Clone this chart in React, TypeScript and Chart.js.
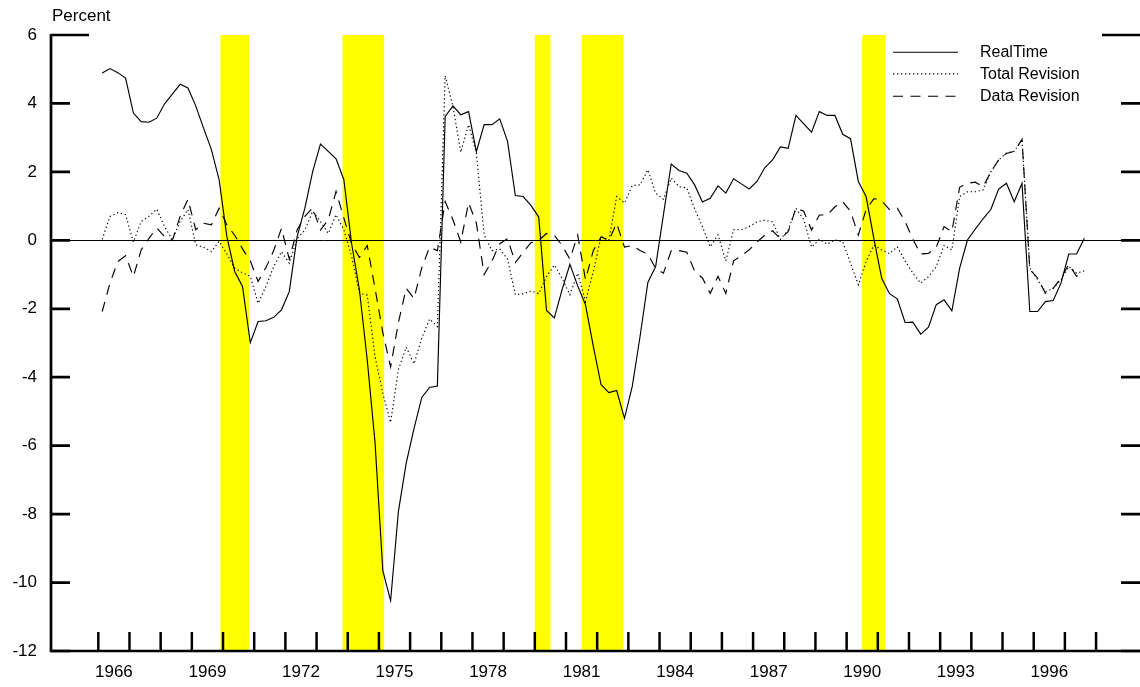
import React, { useEffect, useRef } from "react";
import { Chart, registerables } from "chart.js";

Chart.register(...registerables);

// Quarterly series, 1966Q1 .. 1997Q3 (percent)
const START_YEAR = 1966;

const realTime = [
  4.89, 5.02, 4.9, 4.74, 3.72, 3.47, 3.45, 3.57, 3.99, 4.27,
  4.56, 4.45, 3.93, 3.28, 2.66, 1.77, 0.1, -0.91, -1.35, -2.99,
  -2.37, -2.35, -2.25, -2.03, -1.5, 0.1, 0.94, 2.01, 2.81, 2.6,
  2.38, 1.77, -0.1, -1.45, -3.49, -5.9, -9.65, -10.53, -7.92, -6.51,
  -5.5, -4.59, -4.3, -4.26, 3.62, 3.93, 3.67, 3.76, 2.59, 3.38,
  3.38, 3.55, 2.89, 1.31, 1.28, 1.02, 0.68, -2.05, -2.27, -1.44,
  -0.7, -1.33, -1.88, -3.09, -4.22, -4.45, -4.39, -5.2, -4.27, -2.81,
  -1.23, -0.77, 0.75, 2.23, 2.04, 1.96, 1.62, 1.12, 1.23, 1.59,
  1.38, 1.8, 1.65, 1.5, 1.72, 2.12, 2.35, 2.73, 2.69, 3.65,
  3.4, 3.16, 3.76, 3.65, 3.65, 3.1, 2.97, 1.72, 1.28, 0.05,
  -1.11, -1.56, -1.71, -2.4, -2.39, -2.74, -2.54, -1.88, -1.74, -2.06,
  -0.81, 0.01, 0.33, 0.63, 0.9, 1.5, 1.67, 1.13, 1.67, -2.08,
  -2.08, -1.79, -1.76, -1.25, -0.4, -0.4, 0.06,
];

const totalRevision = [
  0.03, 0.7, 0.81, 0.75, -0.05, 0.55, 0.7, 0.91, 0.4, 0.02,
  0.55, 0.9, -0.13, -0.2, -0.33, -0.03, -0.4, -0.81, -0.95, -1.05,
  -1.84, -1.35, -0.77, -0.33, -0.67, 0.05, 0.3, 0.85, 0.55, 0.2,
  0.75, 0.31, -0.47, -1.55, -1.6, -3.4, -4.47, -5.32, -3.78, -3.12,
  -3.61, -2.86, -2.3, -2.52, 4.81, 3.91, 2.57, 3.38, 2.55, 0.15,
  -0.3, -0.25, -0.55, -1.59, -1.56, -1.48, -1.56, -1.06, -0.72, -1.11,
  -1.59, -0.96, -1.79, -0.91, 0.11, 0.0, 1.28, 1.09, 1.6, 1.62,
  2.06, 1.38, 1.2, 1.82, 1.57, 1.53, 0.92, 0.4, -0.19, 0.16,
  -0.6, 0.31, 0.31, 0.4, 0.54, 0.59, 0.54, 0.03, 0.3, 0.94,
  0.6, -0.2, 0.03, -0.11, 0.01, -0.04, -0.67, -1.3, -0.62, -0.14,
  -0.28, -0.39, -0.19, -0.6, -0.96, -1.25, -1.06, -0.77, -0.15, -0.28,
  1.28, 1.42, 1.42, 1.47, 2.0, 2.35, 2.55, 2.6, 2.94, -0.81,
  -1.15, -1.5, -1.4, -1.15, -0.77, -0.96, -0.89,
];

const dataRevision = [
  -2.08, -1.25, -0.62, -0.45, -1.06, -0.28, 0.06, 0.36, 0.11, 0.0,
  0.7, 1.2, 0.31, 0.5, 0.45, 0.94, 0.45, 0.15, -0.25, -0.6,
  -1.2, -0.8, -0.3, 0.35, -0.55, 0.3, 0.7, 0.95, 0.3, 0.6,
  1.43, 0.65, -0.1, -0.5, -0.15, -1.4, -2.7, -3.7, -2.4, -1.4,
  -1.7, -0.8, -0.2, -0.3, 1.13, 0.6, -0.05, 1.1, 0.5, -1.0,
  -0.6, -0.1, 0.05, -0.65, -0.35, -0.07, 0.0, 0.2, 0.15, -0.15,
  -0.55, 0.15, -1.15, -0.3, 0.1, 0.0, 0.5, -0.2, -0.15, -0.3,
  -0.4, -0.82, -0.96, -0.3, -0.3, -0.35, -0.9, -1.1, -1.55, -1.05,
  -1.55, -0.6, -0.45, -0.28, -0.05, 0.15, 0.28, 0.05, 0.25, 0.94,
  0.85, 0.3, 0.74, 0.74, 0.98, 1.13, 0.85, 0.15, 0.9, 1.22,
  1.16, 0.9, 0.94, 0.55, 0.03, -0.4, -0.38, -0.2, 0.4, 0.25,
  1.55, 1.67, 1.7, 1.57, 2.0, 2.35, 2.54, 2.6, 2.95, -0.85,
  -1.1, -1.55, -1.4, -1.1, -0.7, -1.05, -0.95,
];

// Recession periods (decimal years, monthly dates)
const recessions: [number, number][] = [
  [1969.917, 1970.833],
  [1973.833, 1975.167],
  [1980.0, 1980.5],
  [1981.5, 1982.833],
  [1990.5, 1991.25],
];

const yTicks = [6, 4, 2, 0, -2, -4, -6, -8, -10, -12];
const yearTickFirst = 1966;
const yearTickLast = 1998;
const yearLabels = [1966, 1969, 1972, 1975, 1978, 1981, 1984, 1987, 1990, 1993, 1996];

const seriesNames = ["RealTime", "Total Revision", "Data Revision"];

// scale range (decimal years) and value range
const X_MIN = 1964.483;
const X_MAX = 1999.409;
const Y_MIN = -12;
const Y_MAX = 6;

const FONT = '"Liberation Sans", Arial, Helvetica, sans-serif';

const quarterPos = (i: number) => START_YEAR + i / 4 + 0.125;
const toPoints = (arr: number[]) => arr.map((v, i) => ({ x: quarterPos(i), y: v }));

const DASH_DOT = [1.3, 2.7];
const DASH_LONG = [10, 7.5];
const LINE_W = 1.15;

const framePlugin = {
  id: "frame",
  beforeDatasetsDraw(chart: any) {
    const { ctx, chartArea } = chart;
    const xs = chart.scales.x;
    const ys = chart.scales.y;
    const { left, right, bottom } = chartArea;
    const top = ys.getPixelForValue(Y_MAX);
    ctx.save();
    ctx.fillStyle = "#ffff00";
    for (const [a, b] of recessions) {
      const x1 = xs.getPixelForValue(a);
      const x2 = xs.getPixelForValue(b);
      ctx.fillRect(x1, top, x2 - x1, bottom - top);
    }
    const y0 = Math.round(ys.getPixelForValue(0)) + 0.5;
    ctx.strokeStyle = "#000";
    ctx.lineWidth = 1;
    ctx.beginPath();
    ctx.moveTo(left, y0);
    ctx.lineTo(right, y0);
    ctx.stroke();
    ctx.restore();
  },
  afterDatasetsDraw(chart: any) {
    const { ctx, chartArea } = chart;
    const xs = chart.scales.x;
    const ys = chart.scales.y;
    const { left, right, bottom } = chartArea;
    const top = ys.getPixelForValue(Y_MAX);
    ctx.save();
    ctx.strokeStyle = "#000";
    ctx.lineCap = "butt";
    ctx.lineWidth = 2.7;
    // axes
    ctx.beginPath();
    ctx.moveTo(left, top - 1);
    ctx.lineTo(left, bottom);
    ctx.lineTo(right, bottom);
    ctx.stroke();
    // y ticks (both sides)
    for (const v of yTicks) {
      const y = ys.getPixelForValue(v);
      const len = v === Y_MAX ? 38 : 19;
      ctx.beginPath();
      ctx.moveTo(left, y);
      ctx.lineTo(left + len, y);
      ctx.moveTo(right - len, y);
      ctx.lineTo(right, y);
      ctx.stroke();
    }
    // x ticks at year boundaries
    ctx.lineWidth = 2.5;
    for (let yr = yearTickFirst; yr <= yearTickLast; yr++) {
      const x = xs.getPixelForValue(yr);
      ctx.beginPath();
      ctx.moveTo(x, bottom);
      ctx.lineTo(x, bottom - 19);
      ctx.stroke();
    }
    // labels
    ctx.fillStyle = "#000";
    ctx.font = `17px ${FONT}`;
    ctx.textAlign = "right";
    ctx.textBaseline = "middle";
    for (const v of yTicks) {
      ctx.fillText(String(v), left - 14, ys.getPixelForValue(v));
    }
    ctx.textAlign = "center";
    for (const yr of yearLabels) {
      ctx.fillText(String(yr), xs.getPixelForValue(yr + 0.5), bottom + 21);
    }
    ctx.textAlign = "left";
    ctx.textBaseline = "alphabetic";
    ctx.fillText("Percent", left + 1, 20.5);

    // legend
    const dashes = [[], DASH_DOT, DASH_LONG];
    const rows = [51.7, 73.3, 95.7];
    ctx.font = `16px ${FONT}`;
    ctx.textBaseline = "middle";
    seriesNames.forEach((name, k) => {
      ctx.save();
      ctx.lineWidth = LINE_W;
      ctx.setLineDash(dashes[k]);
      ctx.beginPath();
      ctx.moveTo(893, rows[k] + 0.5);
      ctx.lineTo(958, rows[k] + 0.5);
      ctx.stroke();
      ctx.restore();
      ctx.fillText(name, 980, rows[k] + 1);
    });
    ctx.restore();
  },
};

export default function App() {
  const ref = useRef<HTMLCanvasElement>(null);
  useEffect(() => {
    const canvas = ref.current;
    if (!canvas) return;
    const chart = new Chart(canvas, {
      type: "line",
      data: {
        datasets: [
          {
            label: seriesNames[0],
            data: toPoints(realTime),
            borderColor: "#000",
            borderWidth: LINE_W,
            pointRadius: 0,
            tension: 0,
          },
          {
            label: seriesNames[1],
            data: toPoints(totalRevision),
            borderColor: "#000",
            borderWidth: LINE_W,
            borderDash: DASH_DOT,
            pointRadius: 0,
            tension: 0,
          },
          {
            label: seriesNames[2],
            data: toPoints(dataRevision),
            borderColor: "#000",
            borderWidth: LINE_W,
            borderDash: DASH_LONG,
            pointRadius: 0,
            tension: 0,
          },
        ],
      },
      options: {
        animation: false,
        responsive: false,
        maintainAspectRatio: false,
        devicePixelRatio: 1,
        layout: { padding: { left: 51, right: 0, top: 35, bottom: 36 } },
        plugins: { legend: { display: false }, tooltip: { enabled: false }, title: { display: false } },
        scales: {
          x: { type: "linear", display: false, min: X_MIN, max: X_MAX },
          y: { type: "linear", display: false, min: Y_MIN, max: Y_MAX },
        },
      },
      plugins: [framePlugin],
    } as any);
    return () => chart.destroy();
  }, []);
  return (
    <div style={{ position: "absolute", left: 0, top: 0, width: 1140, height: 687, background: "#fff" }}>
      <canvas ref={ref} width={1140} height={687} style={{ width: 1140, height: 687, display: "block" }} />
    </div>
  );
}
